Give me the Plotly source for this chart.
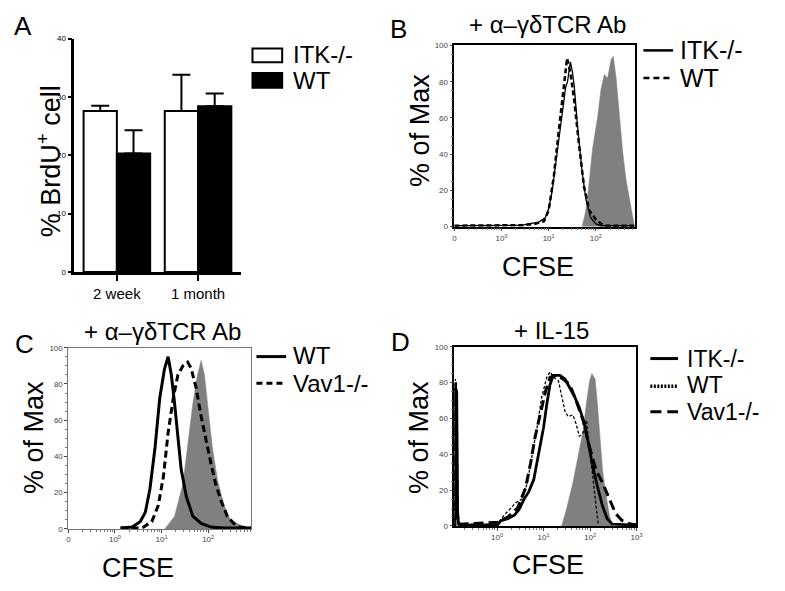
import numpy as np
import plotly.graph_objects as go

W, H = 785, 591
OFF = 8  # default body margin of the html page
FW, FH = W - OFF, H - OFF
FONT = "Arial, 'Liberation Sans', sans-serif"
GRAY = "#808080"

# ---- panel A: % BrdU+ cells ----
periods = ["2 week", "1 month"]
itk_brdu = [27.6, 27.6]
itk_brdu_err = [0.9, 6.2]
wt_brdu = [20.3, 28.4]
wt_brdu_err = [4.0, 2.2]

# ---- panel B: CFSE, anti-gdTCR Ab (x in log10 CFSE) ----
b_unstim_log = [1.71, 1.78, 1.82, 1.93, 2.04, 2.11, 2.18, 2.25, 2.32, 2.37, 2.43, 2.50, 2.57, 2.64, 2.71, 2.79, 2.82]
b_unstim_pct = [0, 8, 15, 43, 61, 76, 84, 82, 92, 94, 82, 59, 41, 26, 15, 4, 0]
b_itk_log = [-1.0, 0.0, 0.45, 0.57, 0.79, 0.93, 1.0, 1.07, 1.15, 1.25, 1.32, 1.36, 1.40, 1.43, 1.46, 1.50, 1.54, 1.61, 1.71, 1.79, 1.89, 2.0, 2.11, 2.82]
b_itk_pct = [0.5, 0.5, 0.8, 1.5, 2.5, 5, 10, 19, 35, 55, 70, 77, 80, 86, 91, 86, 78, 56, 30, 15, 5, 1.5, 0.5, 0.5]
b_wt_log = [-1.0, 0.0, 0.45, 0.7, 0.9, 1.0, 1.11, 1.21, 1.32, 1.39, 1.46, 1.54, 1.64, 1.75, 1.86, 2.0, 2.14, 2.25, 2.82]
b_wt_pct = [0.5, 0.5, 0.8, 1.5, 3, 9, 28, 52, 78, 93, 85, 70, 46, 22, 9, 4, 1, 0.5, 0.5]

# ---- panel C: WT vs Vav1-/- ----
c_unstim_log = [1.07, 1.28, 1.46, 1.56, 1.67, 1.77, 1.85, 1.92, 1.99, 2.09, 2.20, 2.34, 2.48, 2.69, 2.90]
c_unstim_pct = [0, 7, 25, 45, 69, 85, 93, 85, 69, 45, 27, 13, 5, 2, 0]
c_wt_log = [0.12, 0.37, 0.54, 0.65, 0.75, 0.86, 0.96, 1.06, 1.14, 1.21, 1.28, 1.35, 1.42, 1.53, 1.67, 1.85, 2.06, 2.34, 2.93]
c_wt_pct = [0.5, 1, 4, 9, 22, 45, 72, 88, 95, 85, 69, 51, 33, 18, 7, 3, 1, 0.5, 0.5]
c_vav_log = [0.12, 0.58, 0.79, 0.93, 1.04, 1.14, 1.25, 1.35, 1.46, 1.56, 1.63, 1.74, 1.85, 1.95, 2.06, 2.16, 2.27, 2.41, 2.55, 2.69, 2.93]
c_vav_pct = [0.5, 0.5, 4, 13, 29, 53, 72, 85, 90, 92, 89, 78, 62, 49, 36, 25, 16, 7, 3, 1, 0.5]

# ---- panel D: + IL-15 ----
d_unstim_log = [1.39, 1.49, 1.63, 1.74, 1.85, 1.92, 1.99, 2.04, 2.11, 2.16, 2.21, 2.27, 2.34, 2.41, 2.48]
d_unstim_pct = [0, 9, 24, 39, 53, 68, 81, 85, 82, 68, 50, 31, 18, 7, 0]
d_itk_log = [-0.91, -0.90, -0.87, -0.85, -0.82, 0.01, 0.08, 0.23, 0.37, 0.47, 0.58, 0.68, 0.79, 0.86, 0.93, 1.0, 1.07, 1.14,
             1.21, 1.35, 1.46, 1.56, 1.67, 1.77, 1.88, 1.95, 2.06, 2.16, 2.27, 2.37, 2.48, 3.0]
d_itk_pct = [0, 77, 75, 5, 0.5, 0.5, 3, 4, 6, 9, 15, 19, 26, 35, 46, 55, 68, 79,
             84, 84, 82, 77, 72, 66, 57, 48, 33, 22, 11, 4, 1, 0.5]
d_wt_log = [-0.91, -0.90, -0.885, -0.87, -0.85, 0.01, 0.15, 0.30, 0.40, 0.54, 0.65, 0.75, 0.86, 0.96, 1.07, 1.14, 1.21,
            1.32, 1.39, 1.46, 1.53, 1.63, 1.70, 1.77, 1.85, 1.92, 1.99, 2.06, 2.13, 2.18]
d_wt_pct = [0, 82, 80, 40, 1, 1, 6, 10, 13, 15, 24, 39, 55, 72, 83, 86, 83,
            81, 73, 64, 61, 62, 57, 50, 52, 59, 44, 26, 11, 0.5]
d_vav_log = [-0.91, -0.895, -0.88, -0.86, -0.83, 0.01, 0.23, 0.44, 0.61, 0.72, 0.82, 0.93, 1.04, 1.14, 1.28, 1.42, 1.56,
             1.70, 1.85, 1.99, 2.13, 2.27, 2.41, 2.55, 2.69, 2.80, 3.0]
d_vav_pct = [0, 80, 70, 10, 1, 2, 5, 10, 21, 35, 50, 62, 75, 83, 84, 82, 79,
             70, 59, 44, 31, 24, 15, 7, 3, 1.5, 0.5]

hist_ticks = [0.1, 1, 10, 100, 1000]
hist_ticktext = ["0", "10<sup>0</sup>", "10<sup>1</sup>", "10<sup>2</sup>", "10<sup>3</sup>"]


def px(x):
    return (x - OFF) / FW


def py(y):
    return 1 - (y - OFF) / FH


fig = go.Figure()

# panel A bars
fig.add_trace(go.Bar(x=periods, y=itk_brdu, name="ITK-/-", xaxis="x", yaxis="y",
                     marker=dict(color="white", line=dict(color="black", width=2)),
                     error_y=dict(type="data", array=itk_brdu_err, symmetric=False, arrayminus=[0, 0],
                                  color="black", thickness=2, width=9)))
fig.add_trace(go.Bar(x=periods, y=wt_brdu, name="WT", xaxis="x", yaxis="y",
                     marker=dict(color="black", line=dict(color="black", width=2)),
                     error_y=dict(type="data", array=wt_brdu_err, symmetric=False, arrayminus=[0, 0],
                                  color="black", thickness=2, width=9)))


def fill(xs, ys, ax):
    fig.add_trace(go.Scatter(x=10 ** np.array(xs), y=ys, mode="lines", fill="tozeroy",
                             fillcolor=GRAY, line=dict(color=GRAY, width=0.5),
                             xaxis="x" + ax, yaxis="y" + ax, showlegend=False))


def curve(xs, ys, ax, width, dash="solid"):
    fig.add_trace(go.Scatter(x=10 ** np.array(xs), y=ys, mode="lines",
                             line=dict(color="black", width=width, dash=dash),
                             xaxis="x" + ax, yaxis="y" + ax, showlegend=False))


fill(b_unstim_log, b_unstim_pct, "2")
curve(b_itk_log, b_itk_pct, "2", 1.3)
curve(b_wt_log, b_wt_pct, "2", 2.5, "5px,3px")

fill(c_unstim_log, c_unstim_pct, "3")
curve(c_wt_log, c_wt_pct, "3", 3)
curve(c_vav_log, c_vav_pct, "3", 3, "7px,4px")

fill(d_unstim_log, d_unstim_pct, "4")
curve(d_wt_log, d_wt_pct, "4", 1.3, "3px,2px")
curve(d_vav_log, d_vav_pct, "4", 3, "10px,5px")
curve(d_itk_log, d_itk_pct, "4", 2.8)

tickf = dict(family=FONT, size=8, color="#444")


def hist_axes(xdom, ydom, xrange, ticks, texts, lc, lw):
    xa = dict(domain=xdom, type="log", range=xrange, tickvals=ticks, ticktext=texts,
              showline=True, mirror=True, linecolor=lc, linewidth=lw, ticks="outside",
              ticklen=3, tickcolor="#444", tickfont=tickf, showgrid=False, zeroline=False,
              minor=dict(ticks="outside", ticklen=2, tickcolor="#777", dtick="D1"), fixedrange=True)
    ya = dict(domain=ydom, range=[0, 100], tickvals=[0, 20, 40, 60, 80, 100],
              showline=True, mirror=True, linecolor=lc, linewidth=lw, ticks="outside",
              ticklen=3, tickcolor="#444", tickfont=tickf, showgrid=False, zeroline=False,
              minor=dict(ticks="outside", ticklen=2, tickcolor="#777", dtick=5))
    return xa, ya


xa2, ya2 = hist_axes([px(457), px(639)], [py(226), py(42)], [-1, 2.82], hist_ticks, hist_ticktext, "black", 1.5)
xa3, ya3 = hist_axes([px(67), px(252)], [py(533), py(349)], [-1, 2.93], hist_ticks[:4], hist_ticktext[:4], "#777", 1)
xa4, ya4 = hist_axes([px(457), px(641)], [py(530), py(348)], [-0.92, 3.0], hist_ticks[1:], hist_ticktext[1:], "black", 1.5)
ya2["anchor"] = "x2"
ya3["anchor"] = "x3"
ya4["anchor"] = "x4"
xa2["anchor"] = "y2"
xa3["anchor"] = "y3"
xa4["anchor"] = "y4"

fig.update_layout(
    width=FW, height=FH, margin=dict(l=0, r=0, t=0, b=0),
    paper_bgcolor="white", plot_bgcolor="white",
    font=dict(family=FONT, color="black"),
    showlegend=False,
    barmode="group", bargap=0.18, bargroupgap=0,
    xaxis=dict(domain=[px(73), px(241)], range=[-0.524, 1.524], showline=True, linecolor="black",
               linewidth=2.5, ticks="outside", ticklen=6, tickwidth=2, tickcolor="black",
               tickfont=dict(family=FONT, size=15), anchor="y"),
    yaxis=dict(domain=[py(272), py(35)], range=[0, 40], dtick=10, showline=True, linecolor="black",
               linewidth=2.5, ticks="outside", ticklen=4, tickwidth=1.5, tickcolor="black",
               tickfont=dict(family="'Liberation Sans Narrow', " + FONT, size=8), showgrid=False,
               zeroline=False, anchor="x"),
    xaxis2=xa2, yaxis2=ya2, xaxis3=xa3, yaxis3=ya3, xaxis4=xa4, yaxis4=ya4,
)

ann = []
shapes = []


def text(x, y, s, size, xanchor="center", angle=0):
    ann.append(dict(x=px(x), y=py(y), xref="paper", yref="paper", text=s, showarrow=False,
                    xanchor=xanchor, yanchor="middle", textangle=angle,
                    font=dict(family=FONT, size=size, color="black")))


# panel letters
text(21, 22, "A", 26)
text(401, 25, "B", 26)
text(23, 345, "C", 26)
text(403, 343, "D", 26)

# axis titles
text(47, 160, "% BrdU<sup>+</sup> cell", 27, angle=-90)
for cx, cy in [(422, 128), (33, 440), (422, 440)]:
    text(cx, cy, "% of Max", 27, angle=-90)
text(541, 267, "CFSE", 27)
text(137, 573, "CFSE", 27)
text(552, 570, "CFSE", 27)

# panel titles
text(551, 21, "+ α–γδTCR Ab", 24)
text(162, 333, "+ α–γδTCR Ab", 24)
text(555, 332, "+ IL-15", 24)

# B: 10^3 label sits beyond the plot edge
ann.append(dict(x=3, y=py(238), xref="x2", yref="paper", text="10<sup>3</sup>", showarrow=False,
                font=tickf, xanchor="center", yanchor="middle"))

# panel A legend
shapes.append(dict(type="rect", xref="paper", yref="paper", x0=px(253), x1=px(283), y0=py(59), y1=py(45),
                   line=dict(color="black", width=2), fillcolor="white"))
shapes.append(dict(type="rect", xref="paper", yref="paper", x0=px(253), x1=px(283), y0=py(85), y1=py(70),
                   line=dict(color="black", width=2), fillcolor="black"))
text(292, 51, "ITK-/-", 24, "left")
text(292, 78, "WT", 24, "left")


def leg_line(x0, x1, y, width, dash):
    shapes.append(dict(type="line", xref="paper", yref="paper", x0=px(x0), x1=px(x1), y0=py(y), y1=py(y),
                       line=dict(color="black", width=width, dash=dash)))


leg_line(648, 678, 47, 2.5, "solid")
leg_line(648, 678, 75, 2.5, "6px,4px")
text(683, 47, "ITK-/-", 25, "left")
text(683, 75, "WT", 25, "left")

leg_line(257, 287, 358, 3, "solid")
leg_line(257, 287, 385, 3, "6px,4px")
text(292, 357, "WT", 24, "left")
text(292, 385, "Vav1-/-", 24, "left")

leg_line(655, 683, 360, 3, "solid")
leg_line(655, 683, 388, 3.5, "2px,1.5px")
leg_line(655, 683, 414, 3, "11px,6px")
text(690, 360, "ITK-/-", 23, "left")
text(690, 387, "WT", 23, "left")
text(690, 414, "Vav1-/-", 23, "left")

fig.update_layout(annotations=ann, shapes=shapes)
fig.write_html("out.html")
